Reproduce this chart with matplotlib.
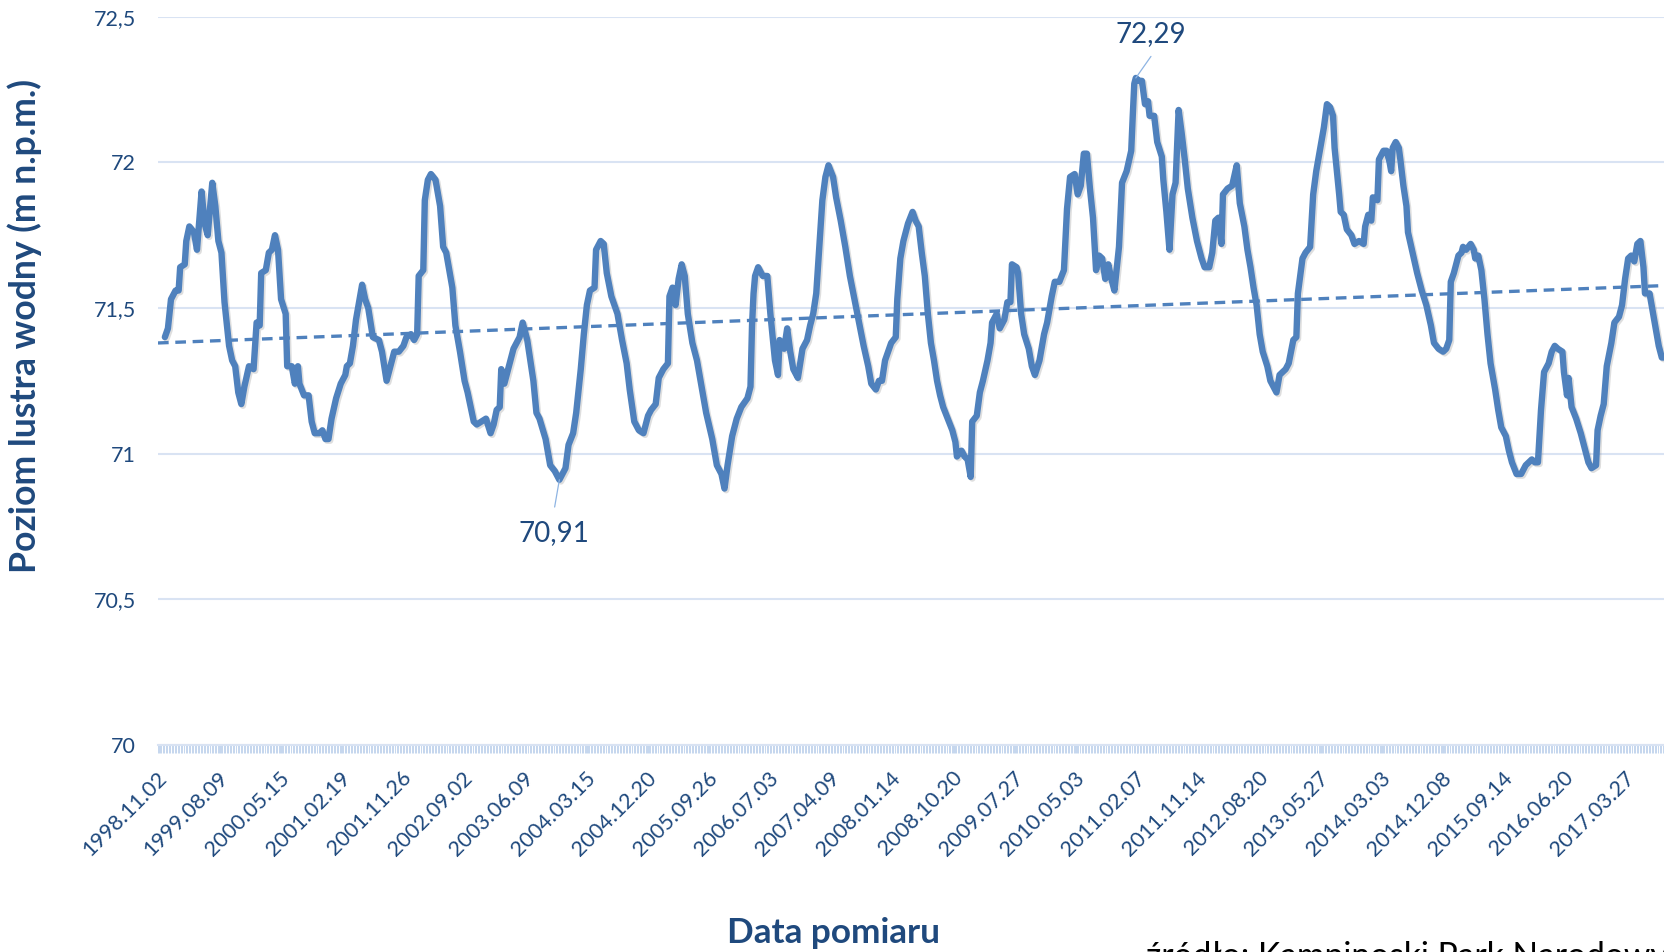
import matplotlib
matplotlib.use("Agg")
import matplotlib.pyplot as plt
import matplotlib.patheffects as pe
import matplotlib.transforms as mtransforms
import numpy as np
from matplotlib.ticker import FixedLocator

plt.rcParams['font.family'] = ['Lato', 'DejaVu Sans']

# ---------------- data (week index from 1998.11.02, water level m n.p.m.) ----------------
weeks = [4, 6, 8, 11, 13, 14, 17, 18, 20, 23, 25, 28, 30, 32, 35, 37, 39, 41, 43, 46,
         48, 50, 52, 54, 56, 59, 62, 64, 66, 67, 70, 72, 74, 76, 78, 80, 83, 84, 87, 89,
         91, 92, 95, 98, 100, 102, 105, 107, 109, 111, 113, 116, 119, 122, 123, 125, 127, 129, 133, 135,
         137, 140, 144, 146, 149, 151, 154, 157, 160, 162, 165, 167, 169, 170, 173, 174, 176, 178, 181, 184,
         186, 188, 192, 194, 197, 200, 202, 206, 208, 211, 214, 217, 219, 221, 223, 224, 226, 229, 232, 236,
         238, 241, 245, 247, 249, 253, 256, 259, 262, 266, 268, 271, 273, 276, 278, 280, 282, 285, 286, 289,
         291, 293, 296, 300, 303, 306, 308, 311, 314, 317, 320, 322, 325, 327, 330, 333, 334, 336, 338, 340,
         342, 344, 346, 349, 352, 355, 358, 362, 365, 368, 370, 372, 375, 378, 381, 385, 387, 388, 389, 390,
         392, 395, 398, 400, 403, 405, 406, 409, 411, 413, 415, 418, 421, 424, 426, 428, 430, 432, 434, 436,
         438, 441, 443, 446, 449, 452, 455, 458, 461, 464, 466, 469, 471, 473, 475, 477, 479, 482, 483, 485,
         487, 490, 493, 495, 497, 499, 501, 503, 505, 507, 509, 511, 513, 516, 519, 521, 522, 525, 527, 529,
         531, 532, 535, 537, 539, 542, 544, 545, 548, 550, 553, 555, 557, 558, 561, 562, 564, 566, 569, 571,
         573, 576, 579, 581, 584, 586, 589, 592, 594, 596, 599, 601, 603, 605, 607, 609, 611, 613, 615, 617,
         619, 621, 623, 625, 628, 630, 633, 636, 637, 638, 639, 641, 643, 645, 647, 648, 651, 653, 656, 657,
         659, 661, 663, 665, 667, 669, 671, 673, 676, 679, 682, 684, 687, 689, 691, 693, 695, 696, 699, 702,
         705, 707, 710, 712, 714, 716, 718, 720, 722, 725, 727, 729, 731, 733, 737, 739, 742, 744, 745, 748,
         750, 753, 755, 757, 759, 762, 764, 766, 768, 769, 772, 773, 775, 777, 780, 782, 785, 788, 789, 791,
         793, 794, 797, 798, 801, 803, 805, 806, 807, 809, 811, 812, 814, 816, 817, 820, 823, 826, 829, 832,
         834, 837, 840, 842, 844, 845, 847, 850, 852, 853, 855, 858, 860, 861, 863, 865, 867, 869, 871, 874,
         876, 878, 881, 883, 885, 888, 891, 894, 896, 898, 900, 902, 904, 906, 909, 911, 913, 915, 918, 919,
         921, 922, 924, 927, 930, 932, 935, 937, 940, 941, 943, 945, 947, 950, 952, 955, 957, 959, 961, 963,
         965, 967, 969, 971, 972, 975, 977, 979, 981, 983, 986]

level = [71.40, 71.43, 71.53, 71.56, 71.56, 71.64, 71.65, 71.73, 71.78, 71.76, 71.70, 71.90, 71.79, 71.75, 71.93, 71.85, 71.73, 71.69, 71.52, 71.37,
         71.32, 71.30, 71.21, 71.17, 71.23, 71.30, 71.29, 71.45, 71.44, 71.62, 71.63, 71.69, 71.70, 71.75, 71.70, 71.53, 71.48, 71.30, 71.30, 71.24,
         71.30, 71.24, 71.20, 71.20, 71.11, 71.07, 71.07, 71.08, 71.05, 71.05, 71.12, 71.19, 71.24, 71.27, 71.30, 71.31, 71.37, 71.46, 71.58, 71.53,
         71.50, 71.40, 71.39, 71.35, 71.25, 71.29, 71.35, 71.35, 71.37, 71.40, 71.41, 71.39, 71.41, 71.61, 71.63, 71.87, 71.94, 71.96, 71.94, 71.85,
         71.71, 71.69, 71.57, 71.44, 71.35, 71.25, 71.21, 71.11, 71.10, 71.11, 71.12, 71.07, 71.10, 71.15, 71.16, 71.29, 71.24, 71.30, 71.36, 71.40,
         71.45, 71.39, 71.25, 71.14, 71.12, 71.05, 70.96, 70.94, 70.91, 70.95, 71.03, 71.07, 71.14, 71.29, 71.41, 71.51, 71.56, 71.57, 71.70, 71.73,
         71.72, 71.62, 71.54, 71.48, 71.39, 71.31, 71.22, 71.11, 71.08, 71.07, 71.13, 71.15, 71.17, 71.26, 71.29, 71.31, 71.54, 71.57, 71.51, 71.60,
         71.65, 71.61, 71.48, 71.38, 71.32, 71.23, 71.14, 71.05, 70.96, 70.93, 70.88, 70.96, 71.06, 71.12, 71.16, 71.19, 71.23, 71.44, 71.55, 71.61,
         71.64, 71.61, 71.61, 71.48, 71.32, 71.27, 71.39, 71.36, 71.43, 71.35, 71.29, 71.26, 71.36, 71.39, 71.44, 71.48, 71.55, 71.71, 71.87, 71.95,
         71.99, 71.95, 71.88, 71.80, 71.71, 71.61, 71.53, 71.45, 71.37, 71.30, 71.24, 71.22, 71.25, 71.25, 71.32, 71.35, 71.38, 71.40, 71.53, 71.67,
         71.73, 71.79, 71.83, 71.80, 71.78, 71.69, 71.61, 71.48, 71.38, 71.32, 71.25, 71.20, 71.16, 71.12, 71.08, 71.04, 70.99, 71.01, 70.99, 70.98,
         70.92, 71.11, 71.13, 71.21, 71.25, 71.32, 71.38, 71.45, 71.48, 71.43, 71.46, 71.52, 71.52, 71.65, 71.64, 71.62, 71.48, 71.41, 71.36, 71.30,
         71.27, 71.32, 71.41, 71.45, 71.54, 71.59, 71.59, 71.63, 71.84, 71.95, 71.96, 71.89, 71.92, 72.03, 72.03, 71.91, 71.81, 71.63, 71.68, 71.67,
         71.60, 71.65, 71.60, 71.56, 71.71, 71.93, 71.97, 72.04, 72.16, 72.27, 72.29, 72.28, 72.28, 72.20, 72.21, 72.16, 72.16, 72.07, 72.02, 71.94,
         71.83, 71.70, 71.89, 71.93, 72.18, 72.10, 72.01, 71.91, 71.81, 71.73, 71.67, 71.64, 71.64, 71.69, 71.80, 71.81, 71.72, 71.89, 71.91, 71.92,
         71.99, 71.86, 71.78, 71.70, 71.64, 71.57, 71.51, 71.41, 71.35, 71.30, 71.25, 71.23, 71.21, 71.27, 71.29, 71.31, 71.39, 71.40, 71.55, 71.67,
         71.69, 71.71, 71.89, 71.97, 72.03, 72.12, 72.20, 72.19, 72.16, 72.05, 71.89, 71.83, 71.82, 71.77, 71.75, 71.72, 71.73, 71.72, 71.78, 71.82,
         71.80, 71.88, 71.87, 72.01, 72.04, 72.04, 72.00, 71.97, 72.05, 72.07, 72.05, 72.01, 71.92, 71.85, 71.76, 71.69, 71.62, 71.56, 71.51, 71.44,
         71.38, 71.36, 71.35, 71.36, 71.39, 71.59, 71.62, 71.68, 71.69, 71.71, 71.70, 71.72, 71.70, 71.67, 71.68, 71.63, 71.53, 71.41, 71.31, 71.22,
         71.15, 71.09, 71.06, 71.01, 70.97, 70.93, 70.93, 70.96, 70.97, 70.98, 70.97, 70.97, 71.15, 71.28, 71.31, 71.35, 71.37, 71.36, 71.35, 71.28,
         71.20, 71.26, 71.16, 71.12, 71.07, 71.03, 70.97, 70.95, 70.96, 71.08, 71.13, 71.17, 71.30, 71.38, 71.45, 71.47, 71.51, 71.60, 71.67, 71.68,
         71.66, 71.72, 71.73, 71.64, 71.55, 71.55, 71.49, 71.43, 71.37, 71.33, 71.33]

# linear trend line (at two weeks)
trend_weeks = [0, 985]
trend_values = [71.38, 71.577]

tick_weeks = [0, 40, 80, 120, 160, 200, 240, 280, 320, 360, 400, 440, 480,
              520, 560, 600, 640, 680, 720, 760, 800, 840, 880, 920, 960]
tick_labels = ['1998.11.02', '1999.08.09', '2000.05.15', '2001.02.19', '2001.11.26',
               '2002.09.02', '2003.06.09', '2004.03.15', '2004.12.20', '2005.09.26',
               '2006.07.03', '2007.04.09', '2008.01.14', '2008.10.20', '2009.07.27',
               '2010.05.03', '2011.02.07', '2011.11.14', '2012.08.20', '2013.05.27',
               '2014.03.03', '2014.12.08', '2015.09.14', '2016.06.20', '2017.03.27']
y_ticks = [70, 70.5, 71, 71.5, 72, 72.5]
y_tick_labels = ['70', '70,5', '71', '71,5', '72', '72,5']

min_label = ('70,91', 262, 70.91)
max_label = ('72,29', 639, 72.29)

# ---------------- styling ----------------
LINE = '#4F81BD'
GRID = '#D9E3F3'
TICKC = '#C5D6EE'
TXT = '#1F497D'
LEAD = '#8EB4E3'

fig = plt.figure(figsize=(16.65, 9.52), dpi=100)
ax = fig.add_axes([0.09489, 0.21765, 0.91880, 0.76471])
ax.set_xlim(-0.5, 1000)
ax.set_ylim(70, 72.5)

ax.plot(weeks, level, color=LINE, lw=4.6, solid_joinstyle='round', solid_capstyle='round',
        zorder=3,
        path_effects=[pe.SimpleLineShadow(offset=(1.2, -1.2), shadow_color='#7f7f7f', alpha=0.25),
                      pe.Normal()])
ax.axline((trend_weeks[0], trend_values[0]), (trend_weeks[1], trend_values[1]),
          color=LINE, lw=2.4, dashes=(3.2, 2.0), zorder=4)

# axes styling
for s in ['left', 'right', 'top']:
    ax.spines[s].set_visible(False)
ax.spines['bottom'].set_color(GRID)
ax.spines['bottom'].set_linewidth(1.5)

ax.set_yticks(y_ticks, y_tick_labels)
ax.grid(axis='y', color=GRID, lw=1.5)
ax.set_axisbelow(True)
ax.tick_params(axis='y', length=0, pad=16, labelsize=15.5, labelcolor=TXT)

ax.set_xticks(tick_weeks, tick_labels)
ax.xaxis.set_minor_locator(FixedLocator(np.arange(-0.5, 1000.5, 1.0)))
ax.tick_params(axis='x', which='both', direction='out', length=6, width=0.7, color=TICKC)
ax.tick_params(axis='x', which='major', pad=10.5, labelsize=15.5, labelcolor=TXT)
shift = mtransforms.ScaledTranslation(-2 / 100, 0, fig.dpi_scale_trans)
for lab in ax.get_xticklabels():
    lab.set_rotation(45)
    lab.set_ha('right')
    lab.set_va('top')
    lab.set_rotation_mode('anchor')
    lab.set_transform(lab.get_transform() + shift)

# data labels with leader lines
ax.annotate(min_label[0], xy=(min_label[1], min_label[2]), xytext=(-4.1, -38.2),
            textcoords='offset points', ha='center', va='center', fontsize=20, color=TXT, zorder=5)
ax.annotate('', xy=(min_label[1], min_label[2]), xytext=(-3.4, -19.6), textcoords='offset points',
            arrowprops=dict(arrowstyle='-', color=LEAD, lw=0.9, shrinkA=0, shrinkB=0), zorder=5)
ax.annotate(max_label[0], xy=(max_label[1], max_label[2]), xytext=(10.7, 31.6),
            textcoords='offset points', ha='center', va='center', fontsize=20, color=TXT, zorder=5)
ax.annotate('', xy=(max_label[1], max_label[2]), xytext=(10.9, 15.5), textcoords='offset points',
            arrowprops=dict(arrowstyle='-', color=LEAD, lw=0.9, shrinkA=0, shrinkB=0), zorder=5)

# axis titles and source
fig.text(0.0150, 0.6576, 'Poziom lustra wodny (m n.p.m.)', rotation=90, ha='center', va='center',
         fontsize=25.7, fontweight='bold', color=TXT)
fig.text(0.5009, 0.0200, 'Data pomiaru', ha='center', va='center',
         fontsize=25.3, fontweight='bold', color=TXT)
fig.text(1146 / 1665, -0.0158, 'źródło: Kampinoski Park Narodowy', ha='left', va='baseline',
         fontsize=24.2, color='black')

fig.savefig('out.png', dpi=100)
